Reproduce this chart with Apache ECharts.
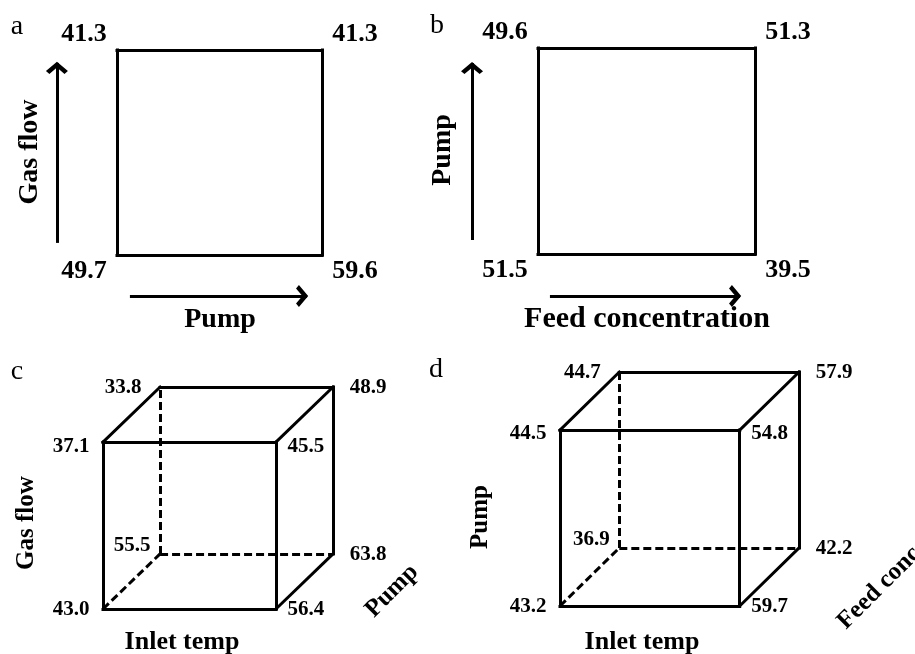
<!DOCTYPE html>
<html>
<head>
<meta charset="utf-8">
<script src="https://cdn.jsdelivr.net/npm/echarts@6/dist/echarts.min.js"></script>
<style>
  html, body { margin: 0; padding: 0; background: #fff; }
  #main { width: 915px; height: 654px; }
</style>
</head>
<body>
<div id="main"></div>
<script>
// corner responses of the factorial plots
// squares: index = x + 2*y   (x = horizontal factor level, y = vertical factor level)
var squareA = [49.7, 59.6, 41.3, 41.3]; // Pump (x) / Gas flow (y)
var squareB = [51.5, 39.5, 49.6, 51.3]; // Feed concentration (x) / Pump (y)
// cubes: index = x + 2*y + 4*z   (z = 0 front face, z = 1 back face)
var cubeC = [43.0, 56.4, 37.1, 45.5, 55.5, 63.8, 33.8, 48.9]; // Inlet temp / Gas flow / Pump
var cubeD = [43.2, 59.7, 44.5, 54.8, 36.9, 42.2, 44.7, 57.9]; // Inlet temp / Pump / Feed conc

var depth = 0.33; // oblique shift of the back face, in axis units
var serif = "Liberation Serif";
var black = "#000";
// open arrow head, tip at the centre of its box
var chevron = "path://M8,-1.5 L8,-1.5 M8,7 L16,15 L13.5,17.5 L8,12 L2.5,17.5 L0,15 Z";

function sq(i) { return [i & 1, (i >> 1) & 1]; }
function cube(i) {
  var z = (i >> 2) & 1;
  return [(i & 1) + depth * z, ((i >> 1) & 1) + depth * z];
}

function valueLabel(size) {
  return {
    show: true, position: "inside", color: black,
    fontFamily: serif, fontWeight: "bold", fontSize: size,
    formatter: function (p) { return p.value[2].toFixed(1); }
  };
}

function squareSeries(g, vals, arrows) {
  var edges = [[0, 1], [0, 2], [1, 3], [2, 3]].map(function (e) {
    return { coords: [sq(e[0]), sq(e[1])] };
  });
  var pts = vals.map(function (v, i) {
    var p = sq(i);
    return { value: [p[0], p[1], v], label: { offset: [p[0] ? 33 : -33, p[1] ? -16 : 16] } };
  });
  return [
    {
      type: "lines", coordinateSystem: "cartesian2d", xAxisIndex: g, yAxisIndex: g,
      clip: false, silent: true, data: edges,
      lineStyle: { color: black, width: 3, cap: "square", opacity: 1 }
    },
    {
      type: "lines", coordinateSystem: "cartesian2d", xAxisIndex: g, yAxisIndex: g,
      clip: false, silent: true, data: arrows,
      symbol: ["none", chevron], symbolSize: 22,
      lineStyle: { color: black, width: 3, opacity: 1 }
    },
    {
      type: "scatter", xAxisIndex: g, yAxisIndex: g, clip: false, silent: true,
      symbolSize: 1, itemStyle: { color: "rgba(0,0,0,0)", opacity: 1 }, data: pts,
      label: valueLabel(26)
    }
  ];
}

function cubeSeries(g, vals) {
  var solid = [], dashed = [];
  for (var i = 0; i < 8; i++) {
    [1, 2, 4].forEach(function (b) {
      if (i & b) return;
      var j = i | b;
      var e = { coords: [cube(i), cube(j)] };
      if (i === 4 || j === 4) dashed.push(e); else solid.push(e);
    });
  }
  var pts = vals.map(function (v, i) {
    var x = i & 1, y = (i >> 1) & 1, z = (i >> 2) & 1;
    var ox = x ? (z ? 35 : 30) : (z ? (y ? -37 : -28) : -32);
    var oy = (z && !x && !y) ? -8 : (y && !z ? 4 : 1);
    return { value: cube(i).concat([v]), label: { offset: [ox, oy] } };
  });
  return [
    {
      type: "lines", coordinateSystem: "cartesian2d", xAxisIndex: g, yAxisIndex: g,
      clip: false, silent: true, data: solid,
      lineStyle: { color: black, width: 3, cap: "square", opacity: 1 }
    },
    {
      type: "lines", coordinateSystem: "cartesian2d", xAxisIndex: g, yAxisIndex: g,
      clip: false, silent: true, data: dashed,
      lineStyle: { color: black, width: 3, type: [8, 4], opacity: 1 }
    },
    {
      type: "scatter", xAxisIndex: g, yAxisIndex: g, clip: false, silent: true,
      symbolSize: 1, itemStyle: { color: "rgba(0,0,0,0)", opacity: 1 }, data: pts,
      label: valueLabel(21)
    }
  ];
}

function txt(s, x, y, size, rot, weight) {
  return {
    type: "text", x: x, y: y, rotation: rot || 0, silent: true,
    style: {
      text: s, fill: black, align: "center", verticalAlign: "middle",
      font: (weight || "bold") + " " + size + "px \"" + serif + "\""
    }
  };
}

var chart = echarts.init(document.getElementById("main"));
var axisOff = { type: "value", show: false, min: 0 };

chart.setOption({
  animation: false,
  backgroundColor: "#fff",
  grid: [
    { left: 117, top: 50, width: 205, height: 205 },
    { left: 538, top: 48, width: 217, height: 206 },
    { left: 103, top: 387, width: 230, height: 222 },
    { left: 560, top: 372, width: 239, height: 234 }
  ],
  xAxis: [0, 1, 2, 3].map(function (g) {
    return Object.assign({}, axisOff, { gridIndex: g, max: g < 2 ? 1 : 1 + depth });
  }),
  yAxis: [0, 1, 2, 3].map(function (g) {
    return Object.assign({}, axisOff, { gridIndex: g, max: g < 2 ? 1 : 1 + depth });
  }),
  series: [].concat(
    squareSeries(0, squareA, [
      { coords: [[-0.293, 0.059], [-0.293, 0.937]] },
      { coords: [[0.063, -0.2], [0.927, -0.2]] }
    ]),
    squareSeries(1, squareB, [
      { coords: [[-0.304, 0.068], [-0.304, 0.927]] },
      { coords: [[0.055, -0.204], [0.931, -0.204]] }
    ]),
    cubeSeries(2, cubeC),
    cubeSeries(3, cubeD)
  ),
  graphic: [
    txt("a", 17, 27, 28, 0, "normal"),
    txt("b", 437, 26, 28, 0, "normal"),
    txt("c", 17, 372, 28, 0, "normal"),
    txt("d", 436, 370, 28, 0, "normal"),
    txt("Gas flow", 30, 152, 28, Math.PI / 2),
    txt("Pump", 220, 320, 28),
    txt("Pump", 443, 150, 28, Math.PI / 2),
    txt("Feed concentration", 647, 319, 30),
    txt("Gas flow", 27, 523, 25, Math.PI / 2),
    txt("Inlet temp", 182, 642, 26),
    txt("Pump", 392, 591, 25, Math.PI / 4),
    txt("Pump", 481, 517, 25, Math.PI / 2),
    txt("Inlet temp", 642, 642, 26),
    txt("Feed conc", 879, 588, 25, Math.PI / 4)
  ]
});
</script>
</body>
</html>
